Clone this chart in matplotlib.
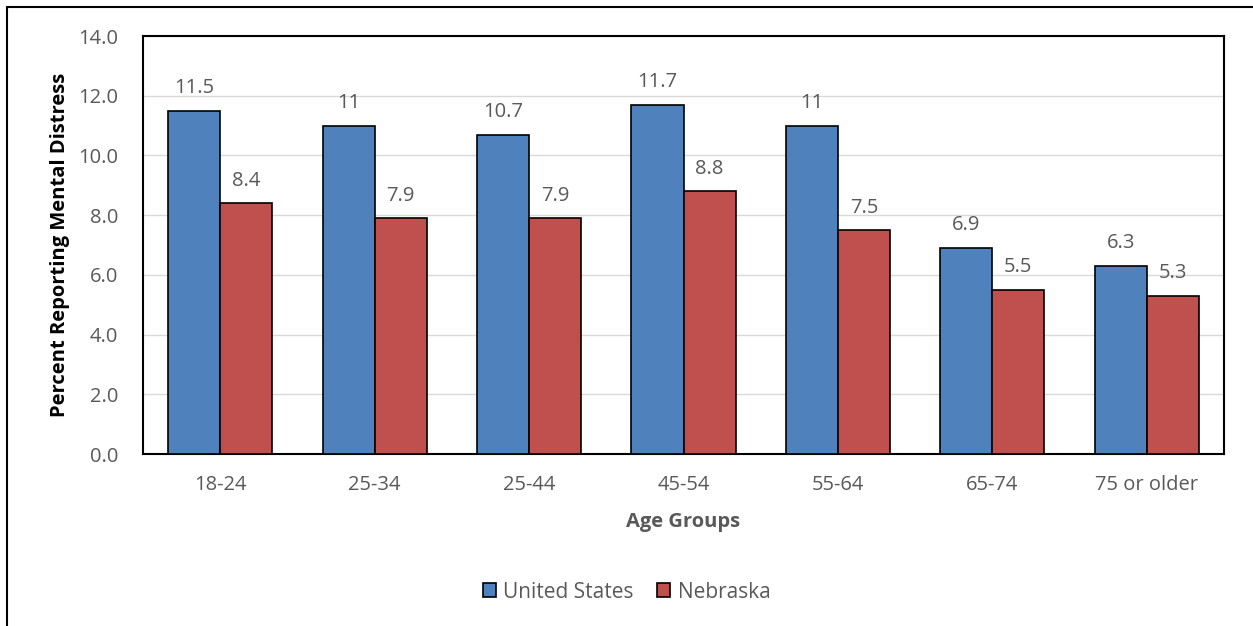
import matplotlib
matplotlib.use("Agg")
import matplotlib.pyplot as plt
import numpy as np
from matplotlib.patches import Rectangle

categories = ["18-24", "25-34", "25-44", "45-54", "55-64", "65-74", "75 or older"]
us_values = [11.5, 11, 10.7, 11.7, 11, 6.9, 6.3]
ne_values = [8.4, 7.9, 7.9, 8.8, 7.5, 5.5, 5.3]
us_labels = ["11.5", "11", "10.7", "11.7", "11", "6.9", "6.3"]
ne_labels = ["8.4", "7.9", "7.9", "8.8", "7.5", "5.5", "5.3"]
yticks = [0, 2, 4, 6, 8, 10, 12, 14]

plt.rcParams['font.family'] = ['Open Sans', 'DejaVu Sans']
gray = "#595959"
fs = 14.5

W, H = 1253, 626
fig = plt.figure(figsize=(W/100, H/100), dpi=100)
ax = fig.add_axes([143/W, 1-454/H, (1224-143)/W, (454-36)/H])

x = np.arange(len(categories))
bw = 0.337
ax.bar(x - bw/2, us_values, bw, color="#4F81BD", edgecolor="black", linewidth=1.2, label="United States", zorder=3)
ax.bar(x + bw/2, ne_values, bw, color="#C0504D", edgecolor="black", linewidth=1.2, label="Nebraska", zorder=3)

for xi, v, t in zip(x, us_values, us_labels):
    ax.text(xi - bw/2, v + 0.42, t, ha="center", va="bottom", fontsize=fs, color=gray)
for xi, v, t in zip(x, ne_values, ne_labels):
    ax.text(xi + bw/2, v + 0.42, t, ha="center", va="bottom", fontsize=fs, color=gray)

ax.set_xlim(-0.5, len(categories) - 0.5)
ax.set_ylim(0, 14)
ax.set_yticks(yticks)
ax.set_yticklabels([f"{v:.1f}" for v in yticks])
ax.set_xticks(x)
ax.set_xticklabels(categories)
ax.tick_params(axis="both", length=0, labelsize=fs, labelcolor=gray)
ax.tick_params(axis="y", pad=18)
ax.tick_params(axis="x", pad=15)
ax.yaxis.grid(True, color="#D9D9D9", linewidth=1, zorder=0)
ax.set_axisbelow(True)
for s in ax.spines.values():
    s.set_color("black")
    s.set_linewidth(1.5)

ax.set_xlabel("Age Groups", fontsize=fs, fontweight="bold", color=gray, labelpad=12)
ax.set_ylabel("Percent Reporting Mental Distress", fontsize=fs, fontweight="bold", color="black", labelpad=6)

leg = ax.legend(loc="center", bbox_to_anchor=(0.5, 1 - 592/H), bbox_transform=fig.transFigure,
                ncol=2, frameon=False, fontsize=15, handlelength=0.65, handleheight=0.65,
                handletextpad=0.35, columnspacing=1.1)
for t in leg.get_texts():
    t.set_color(gray)

fig.patches.append(Rectangle((7/W, -0.1), 1.2, 1 - 7/H + 0.1, transform=fig.transFigure,
                             fill=False, edgecolor="black", linewidth=1.5))

fig.savefig("out.png", dpi=100)
